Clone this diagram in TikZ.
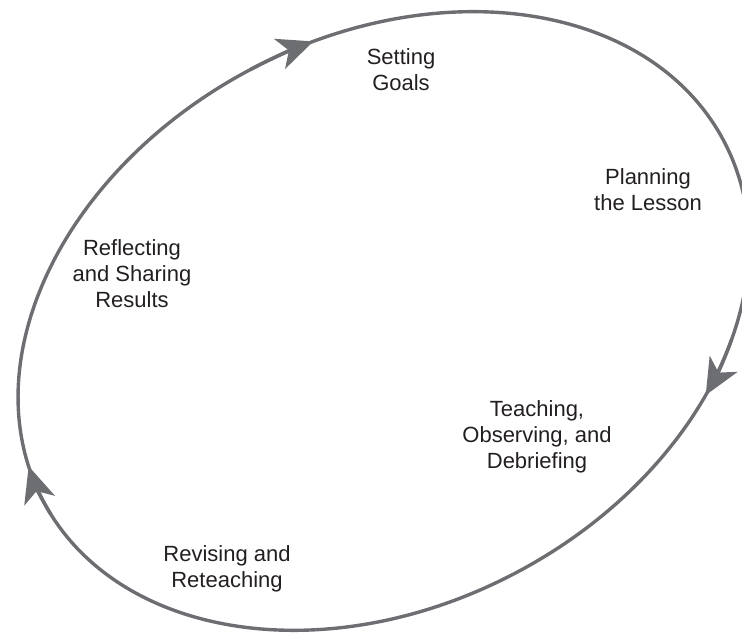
\documentclass[tikz,border=0pt]{standalone}
\usepackage{fontspec}
\setmainfont{Liberation Sans}
\usepackage{xcolor}
\usetikzlibrary{arrows.meta}
\definecolor{loopgray}{RGB}{109,110,113}
\definecolor{txtgray}{RGB}{35,31,32}
\tikzset{
  loop/.style={draw=loopgray, line width=1.7pt},
  looptip/.style={loop, -{Stealth[length=18pt, width=16pt, inset=5pt]}},
  stage/.style={align=center, text=txtgray, font=\fontsize{11}{13}\selectfont}
}

\begin{document}
\begin{tikzpicture}[x=0.5pt,y=0.5pt]

			\useasboundingbox (0,0) rectangle (742,635);
			\coordinate (c) at (383.5,314);

			\begin{scope}[shift={(c)}, rotate=27.9]
				\draw[loop] (0,0) ellipse [x radius=385, y radius=284.5];
				\draw[looptip] (90:385 and 284.5) arc[start angle=90, end angle=79.7, x radius=385, y radius=284.5];
				\draw[looptip] (-39:385 and 284.5) arc[start angle=-39, end angle=-49.5, x radius=385, y radius=284.5];
				\draw[looptip] (183:385 and 284.5) arc[start angle=183, end angle=172.4, x radius=385, y radius=284.5];
			\end{scope}

			\node[stage] (goals) at (401,565) {Setting\\Goals};
			\node[stage] (plan) at (648,445) {Planning\\the Lesson};
			\node[stage] (teach) at (537,198) {Teaching,\\Observing, and\\Debriefing};
			\node[stage] (revise) at (227,66) {Revising and\\Reteaching};
			\node[stage] (reflect) at (132,361) {Reflecting\\and Sharing\\Results};

		\end{tikzpicture}
\end{document}
